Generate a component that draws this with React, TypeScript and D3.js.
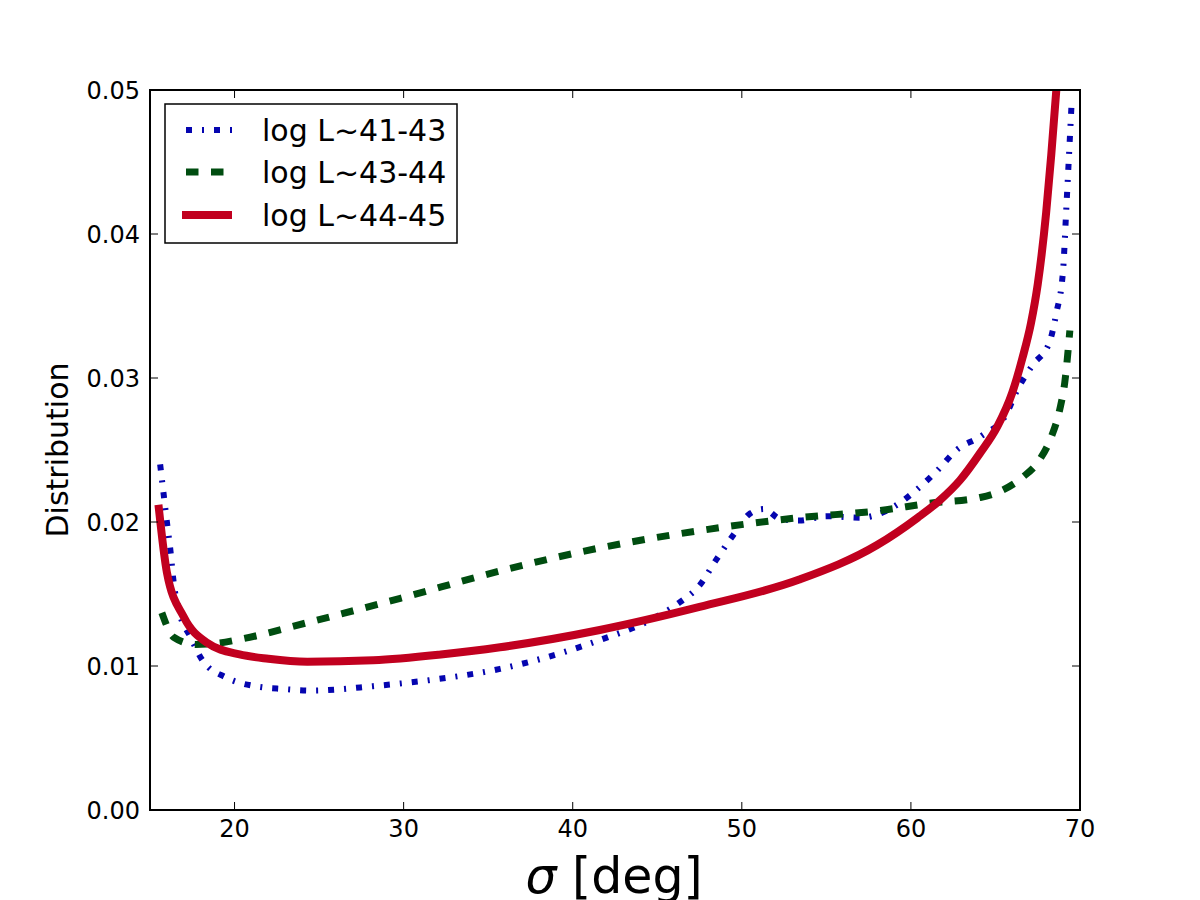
import React from "react";
import * as d3 from "d3";

// sigma [deg] sample points and distribution values per luminosity bin
const sigmaLow = [15.6, 15.8, 16.0, 16.2, 16.4, 16.7, 17.4, 18.1, 19.5, 21.2, 22.9, 24.6, 28.2, 31.4, 35.7, 41.6, 44.6, 46.3, 47.5, 48.5, 49.5, 50.5, 51.3, 52.3, 53.4, 55.0, 57.0, 58.9, 60.2, 61.5, 62.7, 64.2, 65.6, 66.3, 67.2, 68.2, 68.6, 69.0, 69.2, 69.5];
const distLow = [0.024, 0.022, 0.02, 0.0181, 0.0158, 0.0139, 0.012, 0.0104, 0.0092, 0.0086, 0.0084, 0.0083, 0.0086, 0.009, 0.0098, 0.0118, 0.0132, 0.0144, 0.0156, 0.0174, 0.0191, 0.0206, 0.0209, 0.0202, 0.0201, 0.0204, 0.0203, 0.021, 0.0221, 0.0235, 0.025, 0.026, 0.0274, 0.0292, 0.0309, 0.0325, 0.0345, 0.0375, 0.042, 0.049];

const sigmaMid = [15.7, 16.4, 17.7, 19.1, 20.5, 24.6, 29.8, 35.7, 41.6, 47.5, 53.4, 58.2, 61.1, 64.1, 65.4, 66.6, 67.6, 68.3, 68.8, 69.1, 69.4];
const distMid = [0.0137, 0.012, 0.0115, 0.0116, 0.0119, 0.0131, 0.0147, 0.0166, 0.0182, 0.0194, 0.0203, 0.0208, 0.0213, 0.0217, 0.0222, 0.0231, 0.0243, 0.0259, 0.0278, 0.0297, 0.0333];

const sigmaHigh = [15.5, 16.0, 17.0, 18.4, 20.3, 22.0, 24.3, 28.2, 32.2, 35.7, 41.6, 47.5, 53.4, 58.0, 60.4, 61.7, 62.9, 64.1, 65.1, 66.0, 66.6, 67.1, 67.5, 68.0, 68.3, 68.6, 68.9];
const distHigh = [0.0212, 0.0165, 0.0134, 0.0116, 0.0108, 0.0105, 0.0103, 0.0104, 0.0108, 0.0113, 0.0125, 0.0141, 0.016, 0.0184, 0.0203, 0.0215, 0.0229, 0.0248, 0.0266, 0.029, 0.0314, 0.0338, 0.0365, 0.0415, 0.0455, 0.05, 0.055];

const seriesNames = ["log L~41-43", "log L~43-44", "log L~44-45"];
const xTicks = [20, 30, 40, 50, 60, 70];
const yTicks = [0, 0.01, 0.02, 0.03, 0.04, 0.05];

const styles = [
  { color: "#0505b0", width: 6, dash: "6 10 2 10" },
  { color: "#004d10", width: 7, dash: "12.5 12.5" },
  { color: "#c1001f", width: 8, dash: "none" },
];

const W = 1200;
const H = 900;
const left = 150, right = 1080, top = 90, bottom = 810;
const font = "DejaVu Sans, sans-serif";

export default function App() {
  const x = d3.scaleLinear().domain([15, 70]).range([left, right]);
  const y = d3.scaleLinear().domain([0, 0.05]).range([bottom, top]);

  const line = d3
    .line<[number, number]>()
    .x((d) => x(d[0]))
    .y((d) => y(d[1]))
    .curve(d3.curveMonotoneX);

  const series = [
    d3.zip(sigmaLow, distLow) as [number, number][],
    d3.zip(sigmaMid, distMid) as [number, number][],
    d3.zip(sigmaHigh, distHigh) as [number, number][],
  ];

  const tickLen = 8;
  const legendRows = [130, 172, 215];

  return (
    <svg
      width={W}
      height={H}
      style={{ position: "absolute", left: 0, top: 0, background: "#fff" }}
      fontFamily={font}
    >
      <defs>
        <clipPath id="plot-area">
          <rect x={left} y={top} width={right - left} height={bottom - top} />
        </clipPath>
      </defs>
      <rect width={W} height={H} fill="#fff" />

      {/* data lines */}
      <g clipPath="url(#plot-area)">
        {series.map((s, i) => (
          <path
            key={i}
            d={line(s) ?? ""}
            fill="none"
            stroke={styles[i].color}
            strokeWidth={styles[i].width}
            strokeDasharray={styles[i].dash}
            strokeLinecap="butt"
            strokeLinejoin="round"
          />
        ))}
      </g>

      {/* ticks, pointing inward on all four sides */}
      <g stroke="#000" strokeWidth={1}>
        {xTicks.map((t) => (
          <g key={`x${t}`}>
            <line x1={x(t)} x2={x(t)} y1={bottom} y2={bottom - tickLen} />
            <line x1={x(t)} x2={x(t)} y1={top} y2={top + tickLen} />
          </g>
        ))}
        {yTicks.map((t) => (
          <g key={`y${t}`}>
            <line x1={left} x2={left + tickLen} y1={y(t)} y2={y(t)} />
            <line x1={right} x2={right - tickLen} y1={y(t)} y2={y(t)} />
          </g>
        ))}
      </g>

      <rect
        x={left}
        y={top}
        width={right - left}
        height={bottom - top}
        fill="none"
        stroke="#000"
        strokeWidth={2}
      />

      {/* tick labels */}
      <g fontSize={24} fill="#000">
        {xTicks.map((t) => (
          <text key={`xl${t}`} x={x(t)} y={837} textAnchor="middle">
            {t}
          </text>
        ))}
        {yTicks.map((t) => (
          <text key={`yl${t}`} x={140} y={y(t) + 8.7} textAnchor="end">
            {d3.format(".2f")(t)}
          </text>
        ))}
      </g>

      {/* axis labels */}
      <text
        transform={`translate(68,450) rotate(-90)`}
        textAnchor="middle"
        fontSize={30}
      >
        Distribution
      </text>
      <text x={614} y={893} textAnchor="middle" fontSize={49}>
        <tspan fontStyle="italic">σ</tspan>
        <tspan> [deg]</tspan>
      </text>

      {/* legend */}
      <rect x={165} y={104} width={292} height={139} fill="#fff" stroke="#000" strokeWidth={1.5} />
      {seriesNames.map((name, i) => (
        <g key={name}>
          <line
            x1={182}
            x2={232}
            y1={legendRows[i]}
            y2={legendRows[i]}
            stroke={styles[i].color}
            strokeWidth={styles[i].width}
            strokeDasharray={styles[i].dash}
            strokeDashoffset={i === 2 ? 0 : -4}
          />
          <text x={262} y={legendRows[i] + 11} fontSize={30}>
            {name}
          </text>
        </g>
      ))}
    </svg>
  );
}
